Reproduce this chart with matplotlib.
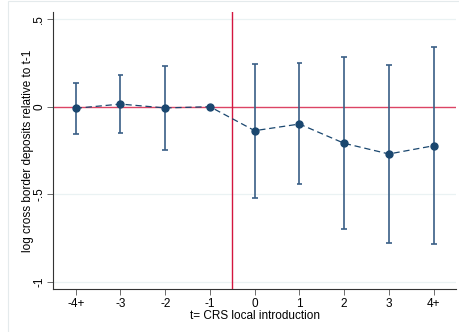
import matplotlib
matplotlib.use("Agg")
import matplotlib.pyplot as plt
from matplotlib.patches import Rectangle
import numpy as np

plt.rcParams['font.family'] = ['Liberation Sans', 'DejaVu Sans']

periods = ['-4+', '-3', '-2', '-1', '0', '1', '2', '3', '4+']
coef = [-0.009, 0.015, -0.007, 0.0, -0.137, -0.099, -0.209, -0.270, -0.223]
ci_low = [-0.156, -0.150, -0.247, np.nan, -0.522, -0.443, -0.701, -0.779, -0.786]
ci_high = [0.137, 0.183, 0.234, np.nan, 0.244, 0.251, 0.282, 0.236, 0.343]

navy = '#1a476f'
bar_col = '#3a5f86'
red = '#d4153f'
grid_col = '#eaf2f3'

fig = plt.figure(figsize=(4.59, 3.32), dpi=100)
fig.patches.append(Rectangle((8 / 459, -0.1), 1.2, 1.1 - 1 / 332,
                             transform=fig.transFigure, fill=False,
                             edgecolor='#e4eaec', linewidth=0.8))
ax = fig.add_axes([0.1162, 0.1286, 0.8773, 0.8353])

x = np.arange(len(periods))
ax.set_xlim(-0.5, 8.5)
ax.set_ylim(-1.043, 0.541)

for yv in [0.5, -0.5, -1.0]:
    ax.axhline(yv, color=grid_col, linewidth=0.9, zorder=0)

ax.axhline(0, color=red, linewidth=1.0, alpha=0.8, zorder=1)
ax.axvline(3.5, color=red, linewidth=1.0, zorder=1)

ok = ~np.isnan(np.array(ci_low))
lo = np.array(ci_low)[ok]
hi = np.array(ci_high)[ok]
cap = 0.065
ax.vlines(x[ok], lo, hi, color=bar_col, linewidth=1.2, zorder=2)
ax.hlines(lo, x[ok] - cap, x[ok] + cap, color=bar_col, linewidth=1.2, zorder=2)
ax.hlines(hi, x[ok] - cap, x[ok] + cap, color=bar_col, linewidth=1.2, zorder=2)

ax.plot(x, coef, color=navy, linestyle=(0, (5, 3)), linewidth=0.9,
        marker='o', markersize=5, zorder=3)

ax.set_xticks(x)
ax.set_xticklabels(periods, fontsize=8.5)
ax.set_yticks([0.5, 0, -0.5, -1])
ax.set_yticklabels(['.5', '0', '-.5', '-1'], fontsize=8.5, rotation=90,
                   va='center')
ax.tick_params(axis='both', length=4, width=0.6, color='#555555', pad=2)
ax.set_xlabel('t= CRS local introduction', fontsize=8.5, labelpad=0)
ax.set_ylabel('log cross border deposits relative to t-1', fontsize=8.5)
ax.yaxis.set_label_coords(-0.049, 0.5)

for s in ['top', 'right']:
    ax.spines[s].set_visible(False)
for s in ['left', 'bottom']:
    ax.spines[s].set_linewidth(0.8)
    ax.spines[s].set_color('#333333')

fig.savefig('out.png', dpi=100)
